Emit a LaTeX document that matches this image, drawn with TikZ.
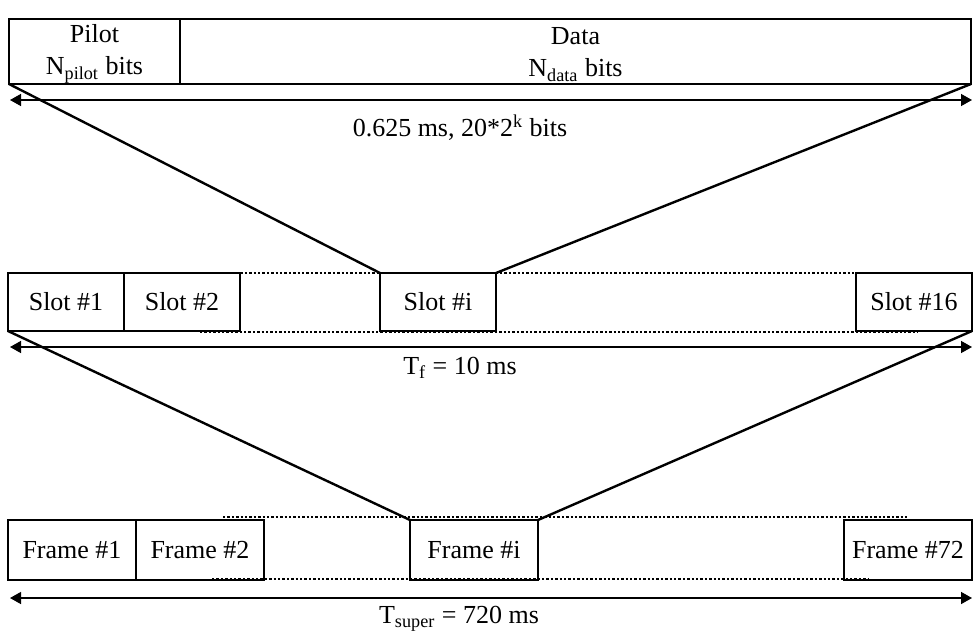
\documentclass[tikz,border=0pt]{standalone}
\usepackage{fontspec}
\setmainfont{Liberation Serif}
\usetikzlibrary{arrows.meta,positioning}

\tikzset{
  cell/.style={draw, line width=0.9pt, inner sep=0pt, outer sep=0pt, align=center},
  slotbox/.style={cell, minimum width=58pt, minimum height=29pt, anchor=north west},
  framebox/.style={cell, minimum width=64pt, minimum height=30pt, anchor=north west},
  span/.style={{Triangle[length=5.5pt,width=6pt]}-{Triangle[length=5.5pt,width=6pt]}, line width=0.7pt},
  zoomline/.style={line width=1.2pt},
  gapline/.style={line width=0.9pt, dash pattern=on 1.2pt off 1pt},
}

\begin{document}
\begin{tikzpicture}[x=0.5pt, y=-0.5pt, font=\fontsize{13}{16}\selectfont]
  \useasboundingbox (0,0) rectangle (973,632);
  % one slot
  \node[cell, minimum width=85.5pt, minimum height=32.5pt, anchor=north west] (pilot) at (9,19) {\rule{0pt}{11.5pt}Pilot\\N\textsubscript{pilot} bits};
  \node[cell, minimum width=395.5pt, minimum height=32.5pt, anchor=north west] (data) at (pilot.north east) {\rule{0pt}{11.5pt}Data\\N\textsubscript{data} bits};
  \coordinate (slotl) at (10,100);
  \coordinate (slotr) at (972,100);
  \draw[span] (slotl) -- (slotr);
  \node (slotlen) at (460,128) {0.625 ms, 20*2\textsuperscript{k} bits};

  % one frame
  \draw[gapline] (192,273) -- (908,273);
  \draw[gapline] (200,332) -- (918,332);
  \node[slotbox] (slot1) at (8,273) {Slot \#1};
  \node[slotbox] (slot2) at (slot1.north east) {Slot \#2};
  \node[slotbox] (sloti) at (380,273) {Slot \#i};
  \node[slotbox] (slot16) at (856,273) {Slot \#16};
  \coordinate (framel) at (10,347);
  \coordinate (framer) at (972,347);
  \draw[span] (framel) -- (framer);
  \node (framelen) at (460,368) {T\textsubscript{f} = 10 ms};

  % one superframe
  \draw[gapline] (223,517) -- (908,517);
  \draw[gapline] (212,579) -- (868,579);
  \node[framebox] (frame1) at (8,520) {Frame \#1};
  \node[framebox] (frame2) at (frame1.north east) {Frame \#2};
  \node[framebox] (framei) at (410,520) {Frame \#i};
  \node[framebox] (frame72) at (844,520) {Frame \#72};
  \coordinate (superl) at (10,598);
  \coordinate (superr) at (972,598);
  \draw[span] (superl) -- (superr);
  \node (superlen) at (459,619) {T\textsubscript{super} = 720 ms};

  % zoom lines
  \draw[zoomline] (pilot.south west) -- (sloti.north west);
  \draw[zoomline] (data.south east) -- (sloti.north east);
  \draw[zoomline] (slot1.south west) -- (framei.north west);
  \draw[zoomline] (slot16.south east) -- (framei.north east);
\end{tikzpicture}
\end{document}
